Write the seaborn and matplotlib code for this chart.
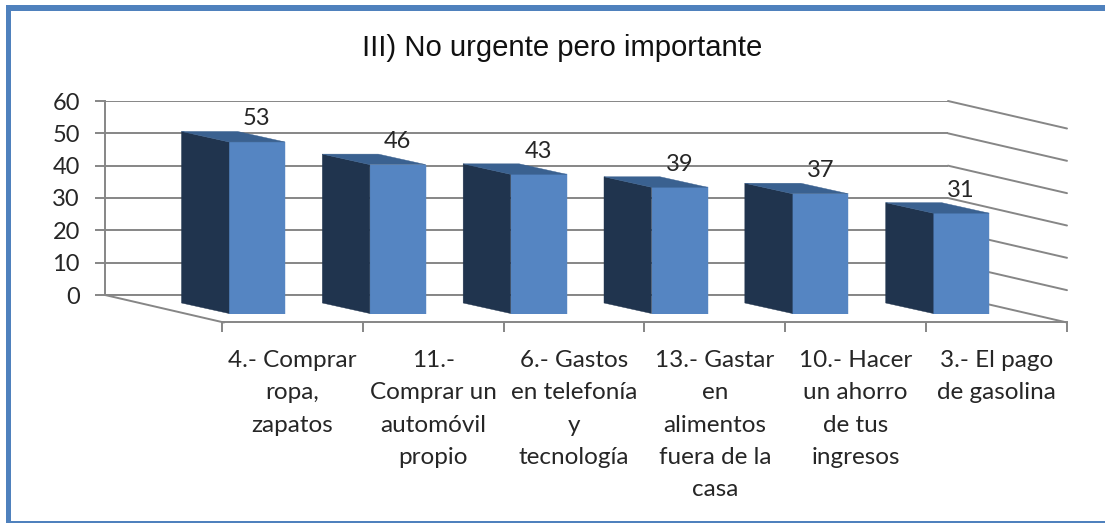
"""
plot.py - Excel style pseudo 3D column chart drawn with seaborn bars.
"""

import matplotlib
matplotlib.use("Agg")
import matplotlib.pyplot as plt
from matplotlib.patches import Polygon, Rectangle
import pandas as pd
import seaborn as sns

# ── Data ──────────────────────────────────────────────────────────────────────
TITLE = "III) No urgente pero importante"
categories = [
    "4.- Comprar\nropa,\nzapatos",
    "11.-\nComprar un\nautomóvil\npropio",
    "6.- Gastos\nen telefonía\ny\ntecnología",
    "13.- Gastar\nen\nalimentos\nfuera de la\ncasa",
    "10.- Hacer\nun ahorro\nde tus\ningresos",
    "3.- El pago\nde gasolina",
]
values = [53, 46, 43, 39, 37, 31]
y_ticks = [0, 10, 20, 30, 40, 50, 60]

# ── Layout (pixels of the 1105x523 picture) ───────────────────────────────────
W, H = 1105, 523
BLUE, DARK, MID = "#5585C2", "#20344E", "#3A6190"
FRAME = "#4F81BD"
GREY = "#868686"
TEXT = "#262626"
BODY_FONT = "Lato"


def px_axes(fig, left, top, right, bottom):
    ax = fig.add_axes([left / W, 1 - bottom / H, (right - left) / W, (bottom - top) / H])
    ax.patch.set_visible(False)
    return ax


def px_rect(fig, left, top, right, bottom, color):
    fig.add_artist(Rectangle((left / W, 1 - bottom / H), (right - left) / W, (bottom - top) / H,
                             transform=fig.transFigure, facecolor=color, edgecolor="none"))


sns.set_theme(style="white")
plt.rcParams["font.family"] = [BODY_FONT, "DejaVu Sans"]
fig = plt.figure(figsize=(W / 100, H / 100), dpi=100, facecolor="white")

# outer frame: open on the right side
px_rect(fig, 6, 5, W, 11, FRAME)
px_rect(fig, 6, 5, 11, 523, FRAME)
px_rect(fig, 6, 521, W, 523, FRAME)

fig.text(562.5 / W, 1 - 48 / H, TITLE, ha="center", va="center", fontsize=21.1,
         family="Liberation Sans", color="#111111")

# ── Back wall: y axis and gridlines ───────────────────────────────────────────
wall = px_axes(fig, 105, 101, 948, 295)
wall.set_xlim(0, 1)
wall.set_ylim(0, 60)
wall.set_xticks([])
wall.set_yticks(y_ticks)
wall.tick_params(axis="y", length=7, width=1.4, color=GREY, labelsize=17, labelcolor=TEXT, pad=11, left=True)
wall.grid(axis="y", color=GREY, linewidth=1.4)
sns.despine(ax=wall, top=True, right=True, bottom=False)
for side in ("left", "bottom"):
    wall.spines[side].set_color(GREY)
    wall.spines[side].set_linewidth(1.4)

# side wall lines run from the back wall towards the floor front
floor_dx = 119 / 843
floor_dy = -27.5 / (194 / 60)
for v in y_ticks:
    wall.plot([1, 1 + floor_dx], [v, v + floor_dy], color=GREY, lw=1.4, clip_on=False)
wall.plot([0, floor_dx], [0, floor_dy], color=GREY, lw=1.4, clip_on=False)

# ── Floor front edge: ticks between categories, labels below ─────────────────
floor = px_axes(fig, 222, 300, 1067, 322)
floor.set_xlim(-0.5, 5.5)
floor.set_yticks([])
floor.set_xticks(range(len(categories)))
floor.set_xticklabels(categories, fontsize=17.5, color=TEXT, linespacing=1.67, va="top")
floor.set_xticks([i - 0.5 for i in range(len(categories) + 1)], minor=True)
floor.tick_params(axis="x", which="major", length=0, pad=20)
floor.tick_params(axis="x", which="minor", length=7, width=1.4, color=GREY, bottom=True)
sns.despine(ax=floor, left=True, top=True, right=True)
floor.spines["bottom"].set_color(GREY)
floor.spines["bottom"].set_linewidth(1.4)

# ── Columns: front face from seaborn, side and top faces from each bar ───────
band = 845 / 6
ax = px_axes(fig, 257 - band / 2, 119.3, 257 + band * 5.5, 313.5)
df = pd.DataFrame({"categoria": categories, "valor": values})
sns.barplot(data=df, x="categoria", y="valor", color=BLUE, saturation=1, width=56 / band,
            edgecolor=BLUE, linewidth=0.3, ax=ax)
ax.set_xlim(-0.5, 5.5)
ax.set_ylim(0, 60)
ax.axis("off")

depth_x = -47.5 / band
depth_y = 10.5 / (194.2 / 60)
for bar, val in zip(list(ax.patches), values):
    x0, x1, h = bar.get_x(), bar.get_x() + bar.get_width(), bar.get_height()
    ax.add_patch(Polygon([(x0, 0), (x0, h), (x0 + depth_x, h + depth_y), (x0 + depth_x, depth_y)],
                         facecolor=DARK, edgecolor=DARK, lw=0.3, clip_on=False))
    ax.add_patch(Polygon([(x0, h), (x1, h), (x1 + depth_x, h + depth_y), (x0 + depth_x, h + depth_y)],
                         facecolor=MID, edgecolor=MID, lw=0.3, clip_on=False))
    ax.annotate(str(val), ((x0 + x1) / 2, h + depth_y), xytext=(0, 1.5), textcoords="offset points",
                ha="center", va="bottom", fontsize=17, color=TEXT, annotation_clip=False)

fig.savefig("out.png", dpi=100)
